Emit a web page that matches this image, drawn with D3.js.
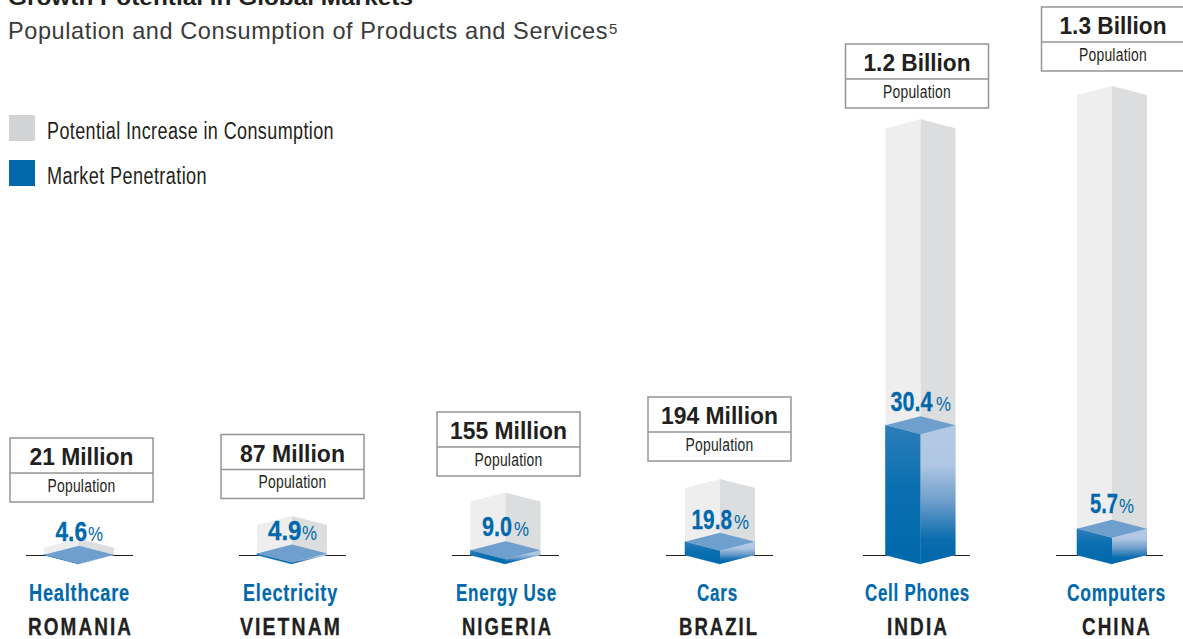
<!DOCTYPE html>
<html><head><meta charset="utf-8">
<script src="https://cdn.jsdelivr.net/npm/d3@7/dist/d3.min.js"></script>
<style>
html,body{margin:0;padding:0;background:#fff;overflow:hidden}
svg{display:block}
text{font-family:"Liberation Sans",sans-serif}
</style></head><body>
<svg id="c" width="1183" height="639"></svg>
<script>
// ---- data ----
const categories = ["Healthcare","Electricity","Energy Use","Cars","Cell Phones","Computers"];
const countries = ["ROMANIA","VIETNAM","NIGERIA","BRAZIL","INDIA","CHINA"];
const populationLabels = ["21 Million","87 Million","155 Million","194 Million","1.2 Billion","1.3 Billion"];
const populationMillions = [21,87,155,194,1237,1333];
const penetration = [4.6,4.9,9.0,19.8,30.4,5.7];
const legendLabels = ["Potential Increase in Consumption","Market Penetration"];

// ---- layout ----
const BLUE="#0068ab", INK="#231f20";
const barCentres=[79,292,505.5,720,920.5,1112];
const stubCentres=[79.5,292.5,505.5,719.5,916.5,1109.5];
const boxLeft=[10,221,437,648,845.5,1041.5];
const boxTop=[438,434.5,412,397,44,7];
const popW=[104,105,117,117,107,107];
const numX=[55.5,268,482,691.5,890.5,1090], numW=[31.5,33.5,30,40.5,42,28];
const pctX=[89,303,515,735,937,1120];
const pctBase=[541,540,535.5,529,411,513];
const catX=[29,243,456,697,865,1067], catW=[100,94,100,40,104,98];
const ctyX=[28,240,462,679,887,1082], ctyW=[103,100,89,78,60,68];
const halfW=35, depth=9, baseY=555;

const svg=d3.select("#c");
const x=d3.scaleOrdinal().domain(categories).range(barCentres);
const y=d3.scaleLinear().domain([0,1333]).range([baseY,95]);
const line=d3.line();
const defs=svg.append("defs");
const gl=defs.append("linearGradient").attr("id","gl").attr("x1",0).attr("x2",0).attr("y1",0).attr("y2",1);
[[0,"#2d7eb9"],[0.45,"#0a6fb0"],[1,"#0068ab"]].forEach(s=>gl.append("stop").attr("offset",s[0]).attr("stop-color",s[1]));
const gr=defs.append("linearGradient").attr("id","gr").attr("x1",0).attr("x2",0).attr("y1",0).attr("y2",1);
[[0,"#b3c9e5"],[0.28,"#b0c7e3"],[0.55,"#6d9ecb"],[0.82,"#0a6cae"],[1,"#0068ab"]].forEach(s=>gr.append("stop").attr("offset",s[0]).attr("stop-color",s[1]));

function fit(sel,w){return sel.attr("textLength",w).attr("lengthAdjust","spacingAndGlyphs");}
fit(svg.append("text").attr("x",8).attr("y",5).attr("font-size",22).attr("font-weight",700).attr("fill",INK).text("Growth Potential in Global Markets"),405);
fit(svg.append("text").attr("x",8).attr("y",39).attr("font-size",24).attr("letter-spacing",.6).attr("fill","#3a3a3a").text("Population and Consumption of Products and Services"),600);
svg.append("text").attr("x",609).attr("y",34).attr("font-size",15).attr("fill","#3a3a3a").text("5");

const legendColours=["#d1d3d4",BLUE];
legendLabels.forEach((t,i)=>{
  svg.append("rect").attr("x",9).attr("y",115+45*i).attr("width",26).attr("height",26).attr("fill",legendColours[i]);
  fit(svg.append("text").attr("x",47).attr("y",139+45*i).attr("font-size",23).attr("letter-spacing",.5).attr("fill",INK).text(t),i?160:287);
});

categories.forEach((cat,i)=>{
  const c=x(cat), g=svg.append("g");
  const pop=populationMillions[i], yT=y(pop), yF=y(pop*penetration[i]/100);
  const sc=stubCentres[i];
  g.append("line").attr("x1",sc-53.5).attr("x2",sc+53.5).attr("y1",baseY+.5).attr("y2",baseY+.5).attr("stroke",INK).attr("stroke-width",1.2);
  g.append("path").attr("fill","#eeeeef").attr("d",line([[c-halfW,yT],[c,yT-depth],[c,baseY+depth],[c-halfW,baseY]])+"Z");
  g.append("path").attr("fill","#dcddde").attr("d",line([[c+halfW,yT],[c,yT-depth],[c,baseY+depth],[c+halfW,baseY]])+"Z");
  g.append("path").attr("fill","url(#gl)").attr("stroke",BLUE).attr("stroke-width",.5).attr("d",line([[c-halfW,yF],[c,yF+depth],[c,baseY+depth],[c-halfW,baseY]])+"Z");
  g.append("path").attr("fill","url(#gr)").attr("d",line([[c+halfW,yF],[c,yF+depth],[c,baseY+depth],[c+halfW,baseY]])+"Z");
  g.append("path").attr("fill","#6f9fcd").attr("d",line([[c-halfW,yF],[c,yF-depth],[c+halfW,yF],[c,yF+depth]])+"Z");
  const bx=boxLeft[i], by=boxTop[i];
  g.append("rect").attr("x",bx).attr("y",by).attr("width",143).attr("height",64).attr("fill","#fff").attr("stroke","#939598").attr("stroke-width",1.5);
  g.append("line").attr("x1",bx).attr("x2",bx+143).attr("y1",by+35).attr("y2",by+35).attr("stroke","#939598").attr("stroke-width",1.5);
  fit(g.append("text").attr("x",bx+71.5).attr("y",by+27).attr("text-anchor","middle").attr("font-size",24).attr("font-weight",700).attr("fill",INK).text(populationLabels[i]),popW[i]);
  fit(g.append("text").attr("x",bx+71.5).attr("y",by+53.5).attr("text-anchor","middle").attr("font-size",17.5).attr("letter-spacing",.3).attr("fill",INK).text("Population"),68);
  fit(g.append("text").attr("x",numX[i]).attr("y",pctBase[i]).attr("font-size",28.5).attr("font-weight",700).attr("stroke",BLUE).attr("stroke-width",.3).attr("fill",BLUE).text(penetration[i].toFixed(1)),numW[i]);
  fit(g.append("text").attr("x",pctX[i]-1).attr("y",pctBase[i]).attr("font-size",20).attr("fill",BLUE).text("%"),15);
  fit(g.append("text").attr("x",catX[i]).attr("y",600.5).attr("font-size",23).attr("font-weight",700).attr("letter-spacing",1).attr("stroke",BLUE).attr("stroke-width",.2).attr("fill",BLUE).text(cat),catW[i]+1);
  fit(g.append("text").attr("x",ctyX[i]).attr("y",635).attr("font-size",23).attr("font-weight",700).attr("letter-spacing",2.5).attr("stroke",INK).attr("stroke-width",.3).attr("fill",INK).text(countries[i]),ctyW[i]+2);
});
</script></body></html>
